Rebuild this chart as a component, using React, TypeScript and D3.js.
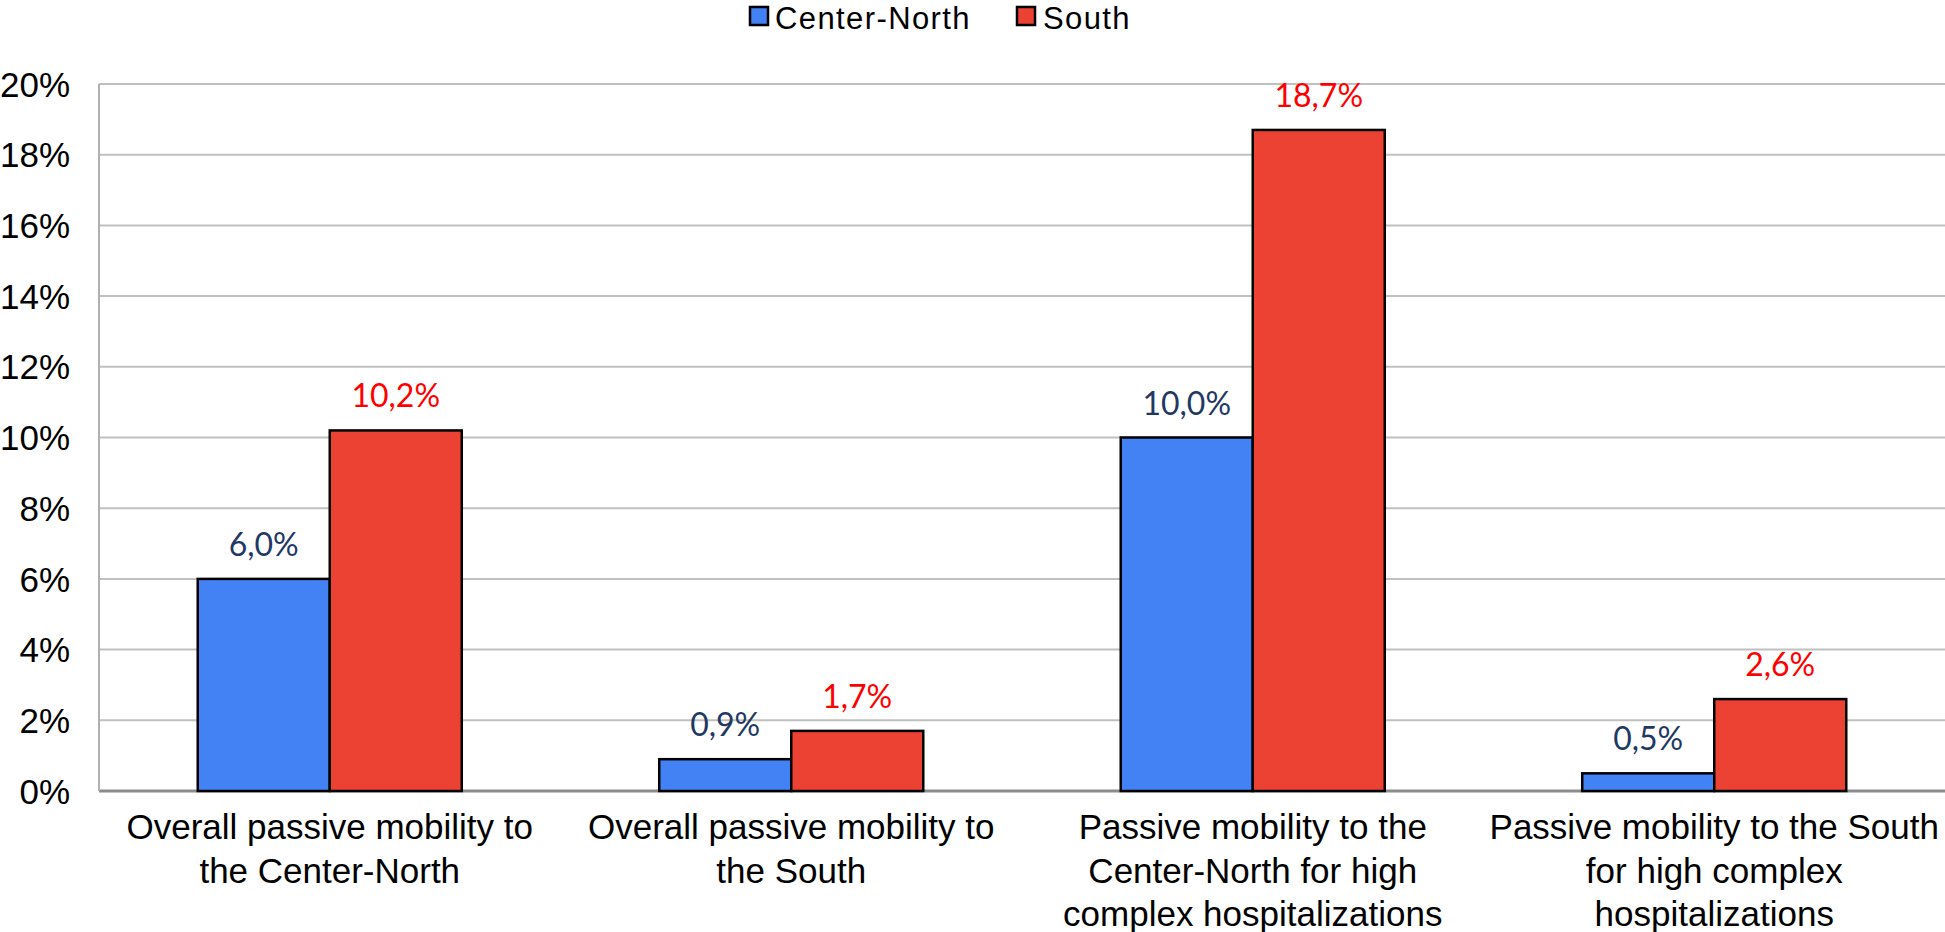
import React from "react";
import * as d3 from "d3";

const categories: string[][] = [
  ["Overall passive mobility to", "the Center-North"],
  ["Overall passive mobility to", "the South"],
  ["Passive mobility to the", "Center-North for high", "complex hospitalizations"],
  ["Passive mobility to the South", "for high complex", "hospitalizations"],
];
const seriesNames = ["Center-North", "South"];
const centerNorth = [6.0, 0.9, 10.0, 0.5];
const south = [10.2, 1.7, 18.7, 2.6];
const yTicks = [0, 2, 4, 6, 8, 10, 12, 14, 16, 18, 20];

const W = 1945;
const H = 932;
const colors = ["#4282F4", "#EC4234"];
const labelColors = ["#1F3864", "#FF0000"];

export default function App() {
  const left = 99, right = 1945, top = 84, bottom = 791;
  const idx = categories.map((_, i) => String(i));
  const x0 = d3.scaleBand<string>().domain(idx).range([left, right]).padding(0);
  const x1 = d3.scaleBand<string>().domain(seriesNames).range([0, x0.bandwidth()]).paddingInner(0).paddingOuter(0.748);
  const y = d3.scaleLinear().domain([0, 20]).range([bottom, top]);
  const values = [centerNorth, south];
  const fmt = (v: number) => v.toFixed(1).replace(".", ",") + "%";

  return (
    <div style={{ position: "absolute", left: 0, top: 0 }}>
      <svg width={W} height={H} style={{ display: "block", background: "#fff" }}>
        {yTicks.map((t) => (
          <line key={t} x1={left} x2={right} y1={y(t)} y2={y(t)} stroke={t === 0 ? "#8C8C8C" : "#C0C0C0"} strokeWidth={t === 0 ? 3 : 2} />
        ))}
        <line x1={left} x2={left} y1={top} y2={bottom} stroke="#B0B0B0" strokeWidth={2} />
        {yTicks.map((t) => (
          <text key={"l" + t} x={70} y={y(t)} dy="0.36em" textAnchor="end" fontFamily="'Liberation Sans', Arial, sans-serif" fontSize={35} fill="#000">
            {t}%
          </text>
        ))}
        {idx.map((c, i) => (
          <g key={c} transform={`translate(${x0(c)},0)`}>
            {seriesNames.map((s, j) => {
              const v = values[j][i];
              const bx = x1(s)!;
              const bw = x1.bandwidth();
              return (
                <g key={s}>
                  <rect x={bx} y={y(v)} width={bw} height={y(0) - y(v)} fill={colors[j]} stroke="#000" strokeWidth={2.5} />
                  <text x={bx + bw / 2} y={y(v) - 23} textAnchor="middle" fontFamily="Lato, 'Open Sans', sans-serif" fontSize={32} fill={labelColors[j]}>
                    {fmt(v)}
                  </text>
                </g>
              );
            })}
          </g>
        ))}
        {categories.map((lines, i) => (
          <text key={"c" + i} x={x0(String(i))! + x0.bandwidth() / 2} y={839} textAnchor="middle" fontFamily="'Liberation Sans', Arial, sans-serif" fontSize={35} fill="#000">
            {lines.map((ln, k) => (
              <tspan key={k} x={x0(String(i))! + x0.bandwidth() / 2} dy={k === 0 ? 0 : 43.5}>
                {ln}
              </tspan>
            ))}
          </text>
        ))}
        <g>
          <rect x={750} y={7} width={18} height={18} fill={colors[0]} stroke="#000" strokeWidth={2.5} />
          <text x={775} y={29} fontFamily="'Liberation Sans', Arial, sans-serif" fontSize={31} letterSpacing={1.4} fill="#000">{seriesNames[0]}</text>
          <rect x={1017} y={7} width={18} height={18} fill={colors[1]} stroke="#000" strokeWidth={2.5} />
          <text x={1043} y={29} fontFamily="'Liberation Sans', Arial, sans-serif" fontSize={31} letterSpacing={1.4} fill="#000">{seriesNames[1]}</text>
        </g>
      </svg>
    </div>
  );
}
